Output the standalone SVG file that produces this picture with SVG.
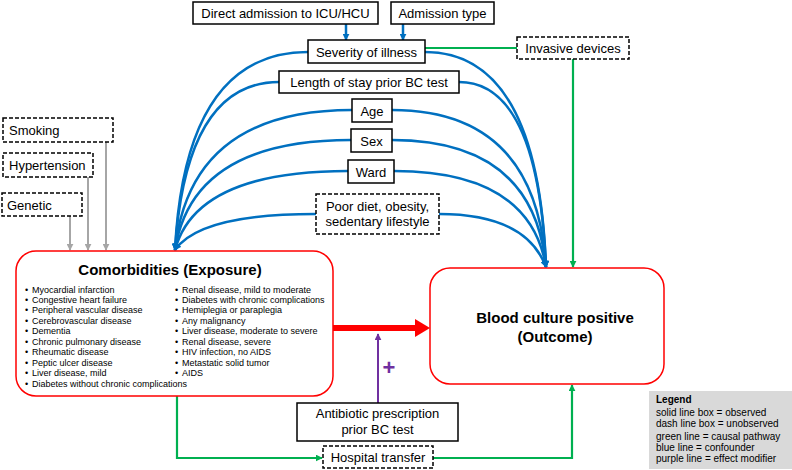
<svg xmlns="http://www.w3.org/2000/svg" width="792" height="470" viewBox="0 0 792 470">
<defs>
<style>
text{font-family:"Liberation Sans",Arial,sans-serif;fill:#000}
.lbl{font-size:13px;text-anchor:middle}
.box{fill:#fff;stroke:#000;stroke-width:1.5}
.dbox{fill:#fff;stroke:#000;stroke-width:1.5;stroke-dasharray:4 2}
.blue{fill:none;stroke:#0070c0;stroke-width:2.5}
.green{fill:none;stroke:#00b050;stroke-width:2.2}
.gray{fill:none;stroke:#a6a6a6;stroke-width:2}
.item{font-size:9px}
.leg{font-size:10px}
</style>
<marker id="ab" viewBox="0 0 10 10" refX="9" refY="5" markerWidth="7" markerHeight="7" markerUnits="userSpaceOnUse" orient="auto"><path d="M0,0L10,5L0,10z" fill="#0070c0"/></marker>
<marker id="ag" viewBox="0 0 10 10" refX="9" refY="5" markerWidth="7" markerHeight="7" markerUnits="userSpaceOnUse" orient="auto"><path d="M0,0L10,5L0,10z" fill="#00b050"/></marker>
<marker id="agr" viewBox="0 0 10 10" refX="9" refY="5" markerWidth="7" markerHeight="7" markerUnits="userSpaceOnUse" orient="auto"><path d="M0,0L10,5L0,10z" fill="#a6a6a6"/></marker>
<marker id="ap" viewBox="0 0 10 10" refX="9" refY="5" markerWidth="7" markerHeight="7" markerUnits="userSpaceOnUse" orient="auto"><path d="M0,0L10,5L0,10z" fill="#7030a0"/></marker>
</defs>
<rect width="792" height="470" fill="#fff"/>

<g id="connectors">
<path class="blue" d="M346,24V40" marker-end="url(#ab)"/>
<path class="blue" d="M403,24V40" marker-end="url(#ab)"/>
<path class="blue" d="M308,52Q185,52 175,250" marker-end="url(#ab)"/>
<path class="blue" d="M279,82Q186,82 175,250" marker-end="url(#ab)"/>
<path class="blue" d="M352,110Q190,110 175,250" marker-end="url(#ab)"/>
<path class="blue" d="M351,140Q192,140 175,250" marker-end="url(#ab)"/>
<path class="blue" d="M348,171Q196,171 175,250" marker-end="url(#ab)"/>
<path class="blue" d="M316,214Q200,214 175,250" marker-end="url(#ab)"/>
<path class="blue" d="M425,52Q538,52 546,267" marker-end="url(#ab)"/>
<path class="blue" d="M459,82Q538,82 546,267" marker-end="url(#ab)"/>
<path class="blue" d="M392,110Q536,110 546,267" marker-end="url(#ab)"/>
<path class="blue" d="M392,140Q534,140 546,267" marker-end="url(#ab)"/>
<path class="blue" d="M394,171Q530,171 546,267" marker-end="url(#ab)"/>
<path class="blue" d="M439,214Q526,214 546,267" marker-end="url(#ab)"/>
<path class="green" d="M425,48H517"/>
<path class="green" d="M573,59V267" marker-end="url(#ag)"/>
<path class="green" d="M177,396V458H322" marker-end="url(#ag)"/>
<path class="green" d="M433,458H572V385" marker-end="url(#ag)"/>
<path class="gray" d="M106,142V250" marker-end="url(#agr)"/>
<path class="gray" d="M88,177V250" marker-end="url(#agr)"/>
<path class="gray" d="M70,216V250" marker-end="url(#agr)"/>
<path d="M333,328H416" stroke="#ff0000" stroke-width="6" fill="none"/>
<path d="M415,319L430,328L415,337z" fill="#ff0000"/>
<path d="M378,403V334" stroke="#7030a0" stroke-width="2" fill="none" marker-end="url(#ap)"/>
<text x="389" y="375" font-size="22" font-weight="bold" text-anchor="middle" style="fill:#7030a0">+</text>
</g>

<g id="direct-admission"><rect class="box" x="193" y="2" width="185" height="22"/><text class="lbl" x="285.5" y="18">Direct admission to ICU/HCU</text></g>
<g id="admission-type"><rect class="box" x="391" y="2" width="103" height="22"/><text class="lbl" x="442.5" y="18">Admission type</text></g>
<g id="severity"><rect class="box" x="308" y="40" width="117" height="23"/><text class="lbl" x="366.5" y="56.5">Severity of illness</text></g>
<g id="invasive-devices"><rect class="dbox" x="517" y="37" width="112" height="22"/><text class="lbl" x="573" y="53">Invasive devices</text></g>
<g id="length-of-stay"><rect class="box" x="279" y="71" width="180" height="22"/><text class="lbl" x="369" y="87">Length of stay prior BC test</text></g>
<g id="age"><rect class="box" x="352" y="99" width="40" height="23"/><text class="lbl" x="372" y="115.5">Age</text></g>
<g id="sex"><rect class="box" x="351" y="129" width="41" height="23"/><text class="lbl" x="371.5" y="145.5">Sex</text></g>
<g id="ward"><rect class="box" x="348" y="160" width="46" height="23"/><text class="lbl" x="371" y="176.5">Ward</text></g>
<g id="poor-diet"><rect class="dbox" x="316" y="194" width="123" height="40"/><text class="lbl" x="377.5" y="211">Poor diet, obesity,</text><text class="lbl" x="377.5" y="226">sedentary lifestyle</text></g>

<g id="smoking"><rect class="dbox" x="3" y="118" width="110" height="24"/><text x="9" y="135" font-size="13">Smoking</text></g>
<g id="hypertension"><rect class="dbox" x="3" y="153" width="90" height="24"/><text x="9" y="170" font-size="13">Hypertension</text></g>
<g id="genetic"><rect class="dbox" x="2" y="193" width="80" height="23"/><text x="7" y="209.5" font-size="13">Genetic</text></g>

<g id="comorbidities">
<rect x="16" y="251" width="317" height="145" rx="20" fill="#fff" stroke="#ff0000" stroke-width="1.5"/>
<text x="170" y="275" font-size="15" font-weight="bold" text-anchor="middle">Comorbidities (Exposure)</text>
<g class="item">
<text x="25" y="292.5">•</text><text x="32" y="292.5">Myocardial infarction</text>
<text x="25" y="303">•</text><text x="32" y="303">Congestive heart failure</text>
<text x="25" y="313.4">•</text><text x="32" y="313.4">Peripheral vascular disease</text>
<text x="25" y="323.8">•</text><text x="32" y="323.8">Cerebrovascular disease</text>
<text x="25" y="334.3">•</text><text x="32" y="334.3">Dementia</text>
<text x="25" y="344.7">•</text><text x="32" y="344.7">Chronic pulmonary disease</text>
<text x="25" y="355.2">•</text><text x="32" y="355.2">Rheumatic disease</text>
<text x="25" y="365.6">•</text><text x="32" y="365.6">Peptic ulcer disease</text>
<text x="25" y="376">•</text><text x="32" y="376">Liver disease, mild</text>
<text x="25" y="386.5">•</text><text x="32" y="386.5">Diabetes without chronic complications</text>
<text x="175" y="292.5">•</text><text x="182" y="292.5">Renal disease, mild to moderate</text>
<text x="175" y="303">•</text><text x="182" y="303">Diabetes with chronic complications</text>
<text x="175" y="313.4">•</text><text x="182" y="313.4">Hemiplegia or paraplegia</text>
<text x="175" y="323.8">•</text><text x="182" y="323.8">Any malignancy</text>
<text x="175" y="334.3">•</text><text x="182" y="334.3">Liver disease, moderate to severe</text>
<text x="175" y="344.7">•</text><text x="182" y="344.7">Renal disease, severe</text>
<text x="175" y="355.2">•</text><text x="182" y="355.2">HIV infection, no AIDS</text>
<text x="175" y="365.6">•</text><text x="182" y="365.6">Metastatic solid tumor</text>
<text x="175" y="376">•</text><text x="182" y="376">AIDS</text>
</g>
</g>

<g id="outcome">
<rect x="430" y="268" width="234" height="116" rx="20" fill="#fff" stroke="#ff0000" stroke-width="1.5"/>
<text x="555" y="323" font-size="15" font-weight="bold" text-anchor="middle">Blood culture positive</text>
<text x="555" y="342" font-size="15" font-weight="bold" text-anchor="middle">(Outcome)</text>
</g>

<g id="antibiotic"><rect class="box" x="297" y="403" width="161" height="38"/><text class="lbl" x="377.5" y="418">Antibiotic prescription</text><text class="lbl" x="377.5" y="434">prior BC test</text></g>
<g id="hospital-transfer"><rect class="dbox" x="323" y="446" width="110" height="22"/><text class="lbl" x="378" y="462">Hospital transfer</text></g>

<g id="legend">
<rect x="649" y="391" width="143" height="78" fill="#d9d9d9"/>
<text x="656" y="403" font-size="10" font-weight="bold">Legend</text>
<text class="leg" x="656" y="416">solid line box = observed</text>
<text class="leg" x="656" y="427">dash line box = unobserved</text>
<text class="leg" x="656" y="440">green line = causal pathway</text>
<text class="leg" x="656" y="451">blue line = confounder</text>
<text class="leg" x="656" y="462">purple line = effect modifier</text>
</g>
</svg>
